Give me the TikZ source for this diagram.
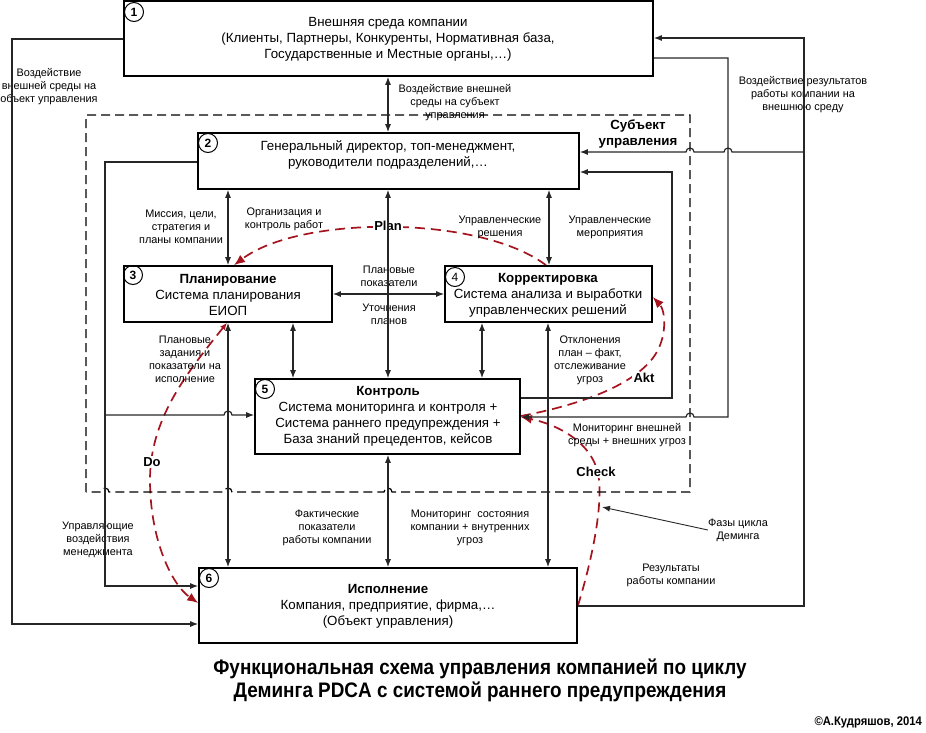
\documentclass[tikz,border=0pt]{standalone}
\usepackage{fontspec}
\setmainfont{Liberation Sans}
\newfontfamily\narrowfont[FakeStretch=0.9]{Liberation Sans}
\usetikzlibrary{arrows.meta}
\definecolor{dred}{RGB}{165,20,30}
\pgfdeclarelayer{pdca}
\pgfsetlayers{pdca,main}
\begin{document}
\begin{tikzpicture}[x=1pt,y=-1pt,
  box/.style={draw=black, line width=1.6pt, inner sep=0pt},
  num/.style={draw, circle, line width=1pt, minimum size=19pt, inner sep=0pt, font=\bfseries\fontsize{12}{12}\selectfont},
  numl/.style={num, font=\fontsize{12}{12}\selectfont},
  main/.style={align=center, font=\fontsize{13.3}{16}\selectfont, inner sep=0pt},
  lbl/.style={align=center, font=\fontsize{10.9}{13}\selectfont, inner sep=0pt},
  conn/.style={line width=1.2pt, draw=black!85},
  arr/.style={conn, -{Latex[length=8pt,width=6pt]}},
  dbl/.style={conn, {Latex[length=8pt,width=6pt]}-{Latex[length=8pt,width=6pt]}},
  frame/.style={line width=1.2pt, dash pattern=on 9pt off 5pt},
  pdca/.style={draw=dred, line width=1.7pt, dash pattern=on 10pt off 6pt, -{Latex[length=11pt,width=9pt]}},
  phlbl/.style={font=\bfseries\fontsize{13}{13}\selectfont, fill=white, inner sep=1.5pt}]
\useasboundingbox (0,0) rectangle (926,732);

% boxes
\node[box, minimum width=529pt, minimum height=75pt] (b1) at (388.5,38.5) {};
\node[box, minimum width=381pt, minimum height=56pt] (b2) at (388.5,161) {};
\node[box, minimum width=208pt, minimum height=56pt] (b3) at (228,294) {};
\node[box, minimum width=207pt, minimum height=56pt] (b4) at (548.5,294) {};
\node[box, minimum width=265pt, minimum height=75pt] (b5) at (387.5,416.5) {};
\node[box, minimum width=378pt, minimum height=75pt] (b6) at (388,605.5) {};

% numbers
\node[num] (n1) at (134,12) {1};
\node[num] (n2) at (208,143) {2};
\node[num] (n3) at (133,275) {3};
\node[numl] (n4) at (455,277) {4};
\node[num] (n5) at (265,389) {5};
\node[num] (n6) at (209,578) {6};

% box texts
\node[main] (t1) at (388,39) {Внешняя среда компании\\(Клиенты, Партнеры, Конкуренты, Нормативная база,\\Государственные и Местные органы,…)};
\node[main] (t2) at (388,155) {Генеральный директор, топ-менеджмент,\\руководители подразделений,…};
\node[main] (t3) at (228,295) {\textbf{Планирование}\\Система планирования\\ЕИОП};
\node[main] (t4) at (548,295) {\textbf{Корректировка}\\Система анализа и выработки\\управленческих решений};
\node[main] (t5) at (388,416) {\textbf{Контроль}\\Система мониторинга и контроля +\\Система раннего предупреждения +\\База знаний прецедентов, кейсов};
\node[main] (t6) at (388,606) {\textbf{Исполнение}\\Компания, предприятие, фирма,…\\(Объект управления)};

% dashed frame of the subject of management
\draw[frame] (86,492) -- (86,115) -- (690,115) -- (690,492)
  -- (392,492) arc[start angle=0,end angle=-180,radius=4]
  -- (232,492) arc[start angle=0,end angle=-180,radius=4]
  -- (109,492) arc[start angle=0,end angle=-180,radius=4] -- cycle;
\node[align=center, font=\bfseries\fontsize{13.3}{15.5}\selectfont, inner sep=0pt] (subj) at (638,134) {Субъект\\управления};

% labels
\node[lbl] (L1) at (49,87) {Воздействие\\внешней среды на\\объект управления};
\node[lbl] (L2) at (455,103) {Воздействие внешней\\среды на субъект\\управления};
\node[lbl] (L3) at (803,95) {Воздействие результатов\\работы компании на\\внешнюю среду};
\node[lbl] (L5) at (181,227) {Миссия, цели,\\стратегия и\\планы компании};
\node[lbl] (L6) at (284,219) {Организация и\\контроль работ};
\node[lbl] (L7) at (500,227) {Управленческие\\решения};
\node[lbl] (L8) at (610,227) {Управленческие\\мероприятия};
\node[lbl] (L9) at (389,276) {Плановые\\показатели};
\node[lbl] (L10) at (389,314) {Уточнения\\планов};
\node[lbl] (L11) at (185,359) {Плановые\\задания и\\показатели на\\исполнение};
\node[lbl] (L12) at (590,360) {Отклонения\\план – факт,\\отслеживание\\угроз};
\node[lbl] (L13) at (627,435) {Мониторинг внешней\\среды + внешних угроз};
\node[lbl] (L14) at (98,540) {Управляющие\\воздействия\\менеджмента};
\node[lbl] (L15) at (327,528) {Фактические\\показатели\\работы компании};
\node[lbl] (L16) at (470,528) {Мониторинг\ \ состояния\\компании + внутренних\\угроз};
\node[lbl] (L17) at (738,530) {Фазы цикла\\Деминга};
\node[lbl] (L18) at (671,575) {Результаты\\работы компании};

% connectors
\draw[dbl] (388,0 |- b1.south) -- (388,0 |- b2.north);
\draw[arr] (b1.west |- 0,39) -- (12,39) -- (12,624) -- (b6.west |- 0,624);
\draw[arr] (b6.east |- 0,606) -- (804,606) -- (804,38) -- (b1.east |- 0,38);
\draw[arr] (804,152) -- (732,152) arc[start angle=0,end angle=-180,radius=4]
  -- (694,152) arc[start angle=0,end angle=-180,radius=4] -- (b2.east |- 0,152);
\draw[arr] (b1.east |- 0,58) -- (728,58) -- (728,417)
  -- (694,417) arc[start angle=0,end angle=-180,radius=4] -- (b5.east |- 0,417);
\draw[arr] (b5.east |- 0,398) -- (672,398) -- (672,172) -- (b2.east |- 0,172);
\draw[arr] (b2.west |- 0,162) -- (105,162) -- (105,586) -- (b6.west |- 0,586);
\draw[arr] (105,415) -- (224,415) arc[start angle=180,end angle=360,radius=4] -- (b5.west |- 0,415);
\draw[dbl] (228,0 |- b2.south) -- (228,0 |- b3.north);
\draw[dbl] (388,0 |- b2.south) -- (388,0 |- b5.north);
\draw[dbl] (549,0 |- b2.south) -- (549,0 |- b4.north);
\draw[dbl] (b3.east |- 0,294) -- (b4.west |- 0,294);
\draw[dbl] (293,0 |- b3.south) -- (293,0 |- b5.north);
\draw[dbl] (482,0 |- b4.south) -- (482,0 |- b5.north);
\draw[dbl] (228,0 |- b3.south) -- (228,0 |- b6.north);
\draw[dbl] (388,0 |- b5.south) -- (388,0 |- b6.north);
\draw[dbl] (548,0 |- b4.south) -- (548,0 |- b6.north);
\coordinate (chk) at (602,507);
\draw[arr, line width=0.9pt] (L17.west) -- (chk);

% PDCA cycle
\begin{pgfonlayer}{pdca}
\draw[pdca] (546,0 |- b4.north) .. controls (480,215) and (300,215) .. (234,0 |- b3.north);
\draw[pdca, {Latex[length=7pt,width=6pt]}-{Latex[length=11pt,width=9pt]}] (227,0 |- b3.south)
  .. controls (185,375) and (150,420) .. (150,480)
  .. controls (150,540) and (172,585) .. (b6.west |- 0,603);
\draw[pdca] (b6.east |- 0,606) .. controls (592,560) and (602,510) .. (599,480)
  .. controls (596,445) and (560,425) .. (b5.east |- 0,417);
\draw[pdca] (b5.east |- 0,416) .. controls (580,405) and (635,385) .. (655,355)
  .. controls (668,335) and (665,310) .. (b4.east |- 0,297);
\node[phlbl] (pP) at (388,226) {Plan};
\node[phlbl] (pD) at (152,462) {Do};
\node[phlbl] (pA) at (644,378) {Akt};
\node[phlbl] (pC) at (596,472) {Check};
\end{pgfonlayer}

% title
\node[align=center, font=\narrowfont\bfseries\fontsize{21}{23}\selectfont, inner sep=0pt] (title) at (480,680) {Функциональная схема управления компанией по циклу\\Деминга PDCA с системой раннего предупреждения};
\node[anchor=east, font=\narrowfont\bfseries\fontsize{12.5}{12.5}\selectfont, inner sep=0pt] (copy) at (922,722) {©А.Кудряшов, 2014};
\end{tikzpicture}
\end{document}
